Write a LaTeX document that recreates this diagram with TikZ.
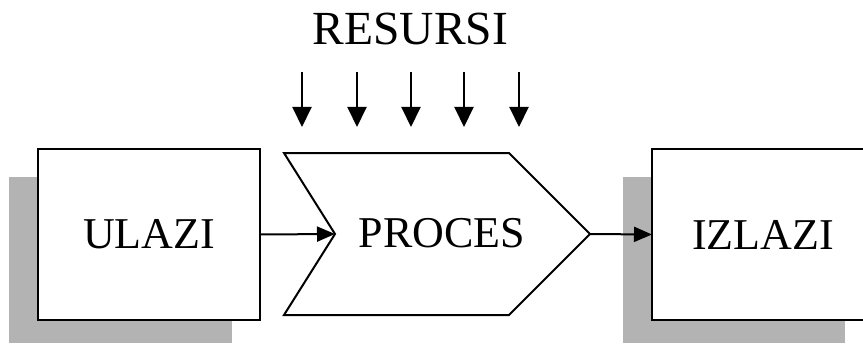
\documentclass[tikz,border=0pt]{standalone}
\usepackage{fontspec}
\setmainfont{Liberation Serif}
\usetikzlibrary{arrows.meta}
\definecolor{shadowgray}{HTML}{B3B3B3}
\tikzset{
  box/.style={draw=black, line width=1.2pt, fill=white, minimum width=222pt, minimum height=171pt, inner sep=0pt, outer sep=0pt, font=\fontsize{44}{50}\selectfont},
  shadowbox/.style={fill=shadowgray, draw=none},
  label44/.style={inner sep=0pt, font=\fontsize{44}{50}\selectfont},
  label47/.style={inner sep=0pt, font=\fontsize{47.5}{54}\selectfont},
  chevron/.style={draw=black, line width=2pt, fill=white, line join=miter},
  flowarrow/.style={line width=2pt, -{Triangle[length=18pt,width=15pt]}},
  resarrow/.style={line width=2pt, -{Triangle[length=20pt,width=19pt]}}
}
\begin{document}
\begin{tikzpicture}[x=1pt,y=-1pt]
\useasboundingbox (0,0) rectangle (863,345);
% shadows
\fill[shadowbox] (9,177) rectangle (232,343);
\fill[shadowbox] (623,177) rectangle (845,343);
% boxes
\node[box] (ulazi) at (149,234.5) {ULAZI};
\node[box] (izlazi) at (763,234.5) {IZLAZI};
% chevron
\draw[chevron] (284,153) -- (509,153) -- (590,234) -- (509,315) -- (284,315) -- (335,234) -- cycle;
\coordinate (notch) at (335,234);
\coordinate (tip) at (590,234);
\node[label44] (proces) at (442,233) {PROCES};
% resources
\node[label47] (resursi) at (410.5,29) {RESURSI};
\foreach \i/\x in {1/302,2/357,3/411,4/464,5/519}{
  \coordinate (rs\i) at (\x,72);
  \coordinate (re\i) at (\x,127);
  \draw[resarrow] (rs\i) -- (re\i);
}
% flow arrows
\draw[flowarrow] (ulazi.east) -- (notch);
\draw[flowarrow] (tip) -- (izlazi.west);
\end{tikzpicture}
\end{document}
